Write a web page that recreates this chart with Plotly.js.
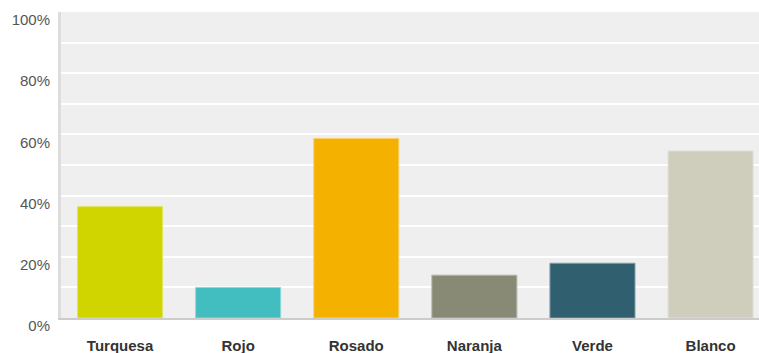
<!DOCTYPE html>
<html><head><meta charset="utf-8">
<script src="https://cdn.plot.ly/plotly-3.0.1.min.js"></script>
<style>html,body{margin:0;padding:0;background:#fff;}#chart{width:759px;height:353px;}</style>
</head><body><div id="chart"></div>
<script>
const categories = ["Turquesa", "Rojo", "Rosado", "Naranja", "Verde", "Blanco"];
const values = [36.4, 10.0, 58.7, 14.0, 17.9, 54.6];
const colors = ["#d0d500", "#42bec1", "#f5b100", "#898a76", "#305f6f", "#cfcebc"];
const borderColors = ["#e0e366", "#8fd8da", "#f9d066", "#b5b6a8", "#7f9ea8", "#e2e1d6"];
const yTicks = [0, 20, 40, 60, 80, 100];
const yTickText = ["0%", "20%", "40%", "60%", "80%", "100%"];

Plotly.newPlot("chart", [{
  type: "bar",
  x: categories,
  y: values,
  marker: {color: colors, line: {color: borderColors, width: 1}},
  hoverinfo: "none"
}], {
  width: 759, height: 353,
  margin: {l: 61, r: 0, t: 12, b: 35, pad: 0},
  paper_bgcolor: "#ffffff",
  plot_bgcolor: "#efefef",
  bargap: 0.28,
  showlegend: false,
  font: {family: "Liberation Sans, Arial, sans-serif"},
  xaxis: {
    range: [-0.5, 5.41],
    showgrid: false,
    zeroline: false,
    showline: true, linecolor: "#cccccc", linewidth: 2,
    ticks: "",
    tickfont: {size: 15, color: "#333333", weight: "bold"},
    ticklabelstandoff: 13
  },
  yaxis: {
    range: [0, 100],
    tickvals: yTicks,
    ticktext: yTickText,
    showgrid: true, gridcolor: "#ffffff", gridwidth: 2,
    minor: {dtick: 10, showgrid: true, gridcolor: "#ffffff", gridwidth: 2},
    zeroline: false,
    showline: true, linecolor: "#dddddd", linewidth: 3,
    ticks: "",
    tickfont: {size: 15, color: "#555555"},
    ticklabelstandoff: 5,
    ticklabelshift: 8
  }
}, {staticPlot: true});
</script></body></html>
